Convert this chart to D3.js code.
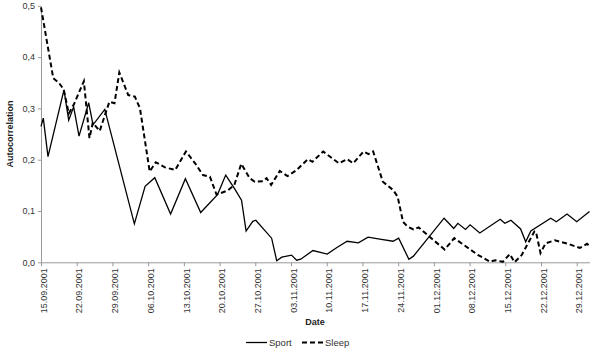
<!DOCTYPE html>
<html lang="en">
<head>
  <meta charset="utf-8">
  <title>Autocorrelation</title>
  <script src="https://d3js.org/d3.v7.min.js"></script>
  <style>
  body { margin: 0; background: #fff; }
  .axis text { font-family: "Liberation Sans", Arial, sans-serif; font-size: 9px; fill: #333; }
  .axis path, .axis line { stroke: #999; }
  .title { font-family: "Liberation Sans", Arial, sans-serif; font-size: 9px; font-weight: bold; fill: #222; }
  .legend text { font-family: "Liberation Sans", Arial, sans-serif; font-size: 9.5px; fill: #333; }
  </style>
</head>
<body>
<script>
var width = 590;
var height = 349;

// day offsets from 15.09.2001 and values
var sportDays = [0, 0.45, 1.37, 4.5, 5.43, 6.4, 7.45, 9.35, 10.2, 12.5, 18.3, 20.4, 22.3, 25.4, 28.3,
  31.3, 33.1, 34.6, 36.2, 37.9, 39.3, 40.2, 41.5, 42.1, 45.2, 46.2, 47.2, 49.1, 50.1, 50.9, 53.3,
  56.1, 58.0, 60.0, 62.2, 64.1, 66.4, 69.0, 70.1, 72.1, 73.0, 79.0, 80.9, 81.7, 83.2, 84.1, 86.0,
  90.0, 90.9, 92.1, 94.0, 95.0, 96.0, 99.9, 101.0, 103.1, 105.0, 107.5];
var sportVals = [0.265, 0.281, 0.206, 0.336, 0.277, 0.303, 0.246, 0.311, 0.268, 0.298, 0.075, 0.148, 0.165, 0.094, 0.163,
  0.097, 0.116, 0.132, 0.170, 0.144, 0.121, 0.061, 0.080, 0.082, 0.047, 0.003, 0.010, 0.014, 0.004, 0.006, 0.023,
  0.016, 0.029, 0.041, 0.038, 0.049, 0.045, 0.041, 0.047, 0.006, 0.012, 0.086, 0.066, 0.076, 0.064, 0.073, 0.057,
  0.084, 0.076, 0.082, 0.065, 0.040, 0.061, 0.086, 0.079, 0.094, 0.079, 0.099];

var sleepDays = [0, 2.4, 3.5, 4.45, 5.45, 6.4, 8.4, 9.5, 10.15, 11.5, 13.4, 14.4, 15.35, 17.1, 18.4, 19.4,
  21.3, 22.5, 24.3, 26.3, 28.4, 30.2, 31.75, 33.1, 34.4, 36.6, 37.9, 39.25, 40.9, 41.9, 43.5, 44.2,
  45.1, 46.8, 48.3, 50.0, 52.3, 53.2, 55.3, 58.4, 60.0, 61.2, 63.2, 64.2, 65.1, 67.0, 69.0, 69.9,
  70.95, 71.8, 73.0, 74.0, 79.1, 81.0, 85.7, 88.0, 89.0, 90.5, 91.9, 92.8, 94.2, 96.7, 97.0, 97.9,
  98.9, 100.7, 103.3, 105.6, 107.0, 107.5];
var sleepVals = [0.497, 0.359, 0.350, 0.337, 0.290, 0.307, 0.353, 0.242, 0.272, 0.256, 0.313, 0.310, 0.370, 0.326, 0.323, 0.300,
  0.177, 0.195, 0.185, 0.180, 0.216, 0.193, 0.170, 0.167, 0.132, 0.140, 0.151, 0.192, 0.164, 0.157, 0.158, 0.164,
  0.151, 0.178, 0.168, 0.179, 0.201, 0.196, 0.216, 0.193, 0.201, 0.193, 0.216, 0.211, 0.216, 0.157, 0.141, 0.128,
  0.079, 0.070, 0.064, 0.068, 0.025, 0.047, 0.014, 0.001, 0.004, 0.001, 0.016, 0.000, 0.014, 0.060, 0.060, 0.018,
  0.037, 0.043, 0.036, 0.028, 0.036, 0.032];

var yTicks = [0, 0.1, 0.2, 0.3, 0.4, 0.5];
var seriesNames = ["Sport", "Sleep"];

var start = new Date(2001, 8, 15);
var dayMs = 86400000;
function toDate(d) { return new Date(start.getTime() + d * dayMs); }

var svg = d3.select("body")
  .append("svg")
  .attr("width", width)
  .attr("height", height);

var x = d3.scaleTime()
  .domain([start, toDate(107.6)])
  .range([41, 590]);

var y = d3.scaleLinear()
  .domain([0, 0.5])
  .range([262.3, 5.8]);

var fmtDate = d3.timeFormat("%d.%m.%Y");
var fmtVal = function(v) { return d3.format(".1f")(v).replace(".", ","); };

// x axis, weekly ticks
var xTicks = d3.range(0, 106, 7).map(toDate);
var gx = svg.append("g")
  .attr("class", "axis")
  .attr("transform", "translate(0," + y(0) + ")")
  .call(d3.axisBottom(x).tickValues(xTicks).tickFormat(fmtDate).tickSize(4).tickSizeOuter(0));
gx.selectAll("text")
  .attr("transform", "rotate(-90)")
  .attr("text-anchor", "end")
  .attr("dx", "-6")
  .attr("dy", "-0.35em")
  .attr("x", 0)
  .attr("y", 0)
  .style("dominant-baseline", "middle");
gx.selectAll("text").attr("dy", "0.32em");

var gy = svg.append("g")
  .attr("class", "axis")
  .attr("transform", "translate(41,0)")
  .call(d3.axisLeft(y).tickValues(yTicks).tickFormat(fmtVal).tickSize(3).tickSizeOuter(0));
gy.selectAll("text").attr("x", -6);

var line = d3.line()
  .x(function(d) { return x(toDate(d[0])); })
  .y(function(d) { return y(d[1]); });

var sport = d3.zip(sportDays, sportVals);
var sleep = d3.zip(sleepDays, sleepVals);

svg.append("path")
  .datum(sport)
  .attr("fill", "none")
  .attr("stroke", "#000")
  .attr("stroke-width", 1.3)
  .attr("d", line);

svg.append("path")
  .datum(sleep)
  .attr("fill", "none")
  .attr("stroke", "#000")
  .attr("stroke-width", 2)
  .attr("stroke-dasharray", "5,3")
  .attr("d", line);

svg.append("text")
  .attr("class", "title")
  .attr("transform", "translate(13,134) rotate(-90)")
  .attr("text-anchor", "middle")
  .text("Autocorrelation");

svg.append("text")
  .attr("class", "title")
  .attr("x", 315)
  .attr("y", 325)
  .attr("text-anchor", "middle")
  .text("Date");

// legend
var legend = svg.append("g").attr("class", "legend");
var lx = [246, 302];
seriesNames.forEach(function(name, i) {
  legend.append("line")
    .attr("x1", lx[i]).attr("x2", lx[i] + 21)
    .attr("y1", 342.5).attr("y2", 342.5)
    .attr("stroke", "#000")
    .attr("stroke-width", i == 0 ? 1.3 : 2)
    .attr("stroke-dasharray", i == 0 ? null : "5,3");
  legend.append("text")
    .attr("x", lx[i] + 23)
    .attr("y", 346)
    .text(name);
});
</script>
</body>
</html>
